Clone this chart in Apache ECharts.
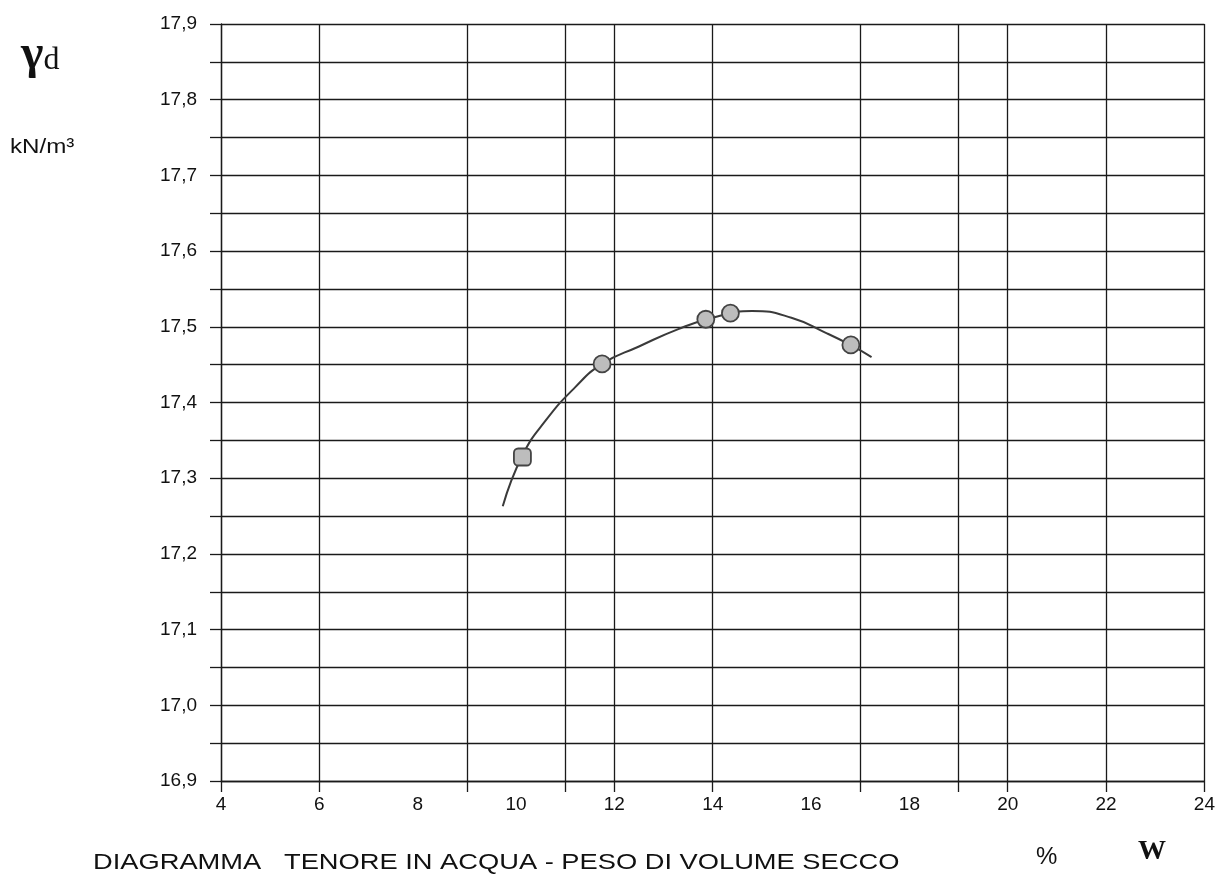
<!DOCTYPE html>
<html>
<head>
<meta charset="utf-8">
<title>Diagramma tenore in acqua - peso di volume secco</title>
<script src="https://cdn.jsdelivr.net/npm/echarts@6/dist/echarts.min.js"></script>
<style>
    html, body { margin: 0; padding: 0; background: #fff; }
    #main { width: 1218px; height: 876px; }
</style>
</head>
<body>
<div id="main"></div>
<script>
// punti di prova (w %, gamma_d kN/m3)
var provaW = [10.13, 11.75, 13.86, 14.36, 16.81];
var provaGd = [17.328, 17.451, 17.510, 17.518, 17.476];

// curva interpolata
var curvaW = [9.73, 10.13, 10.6, 11.2, 11.75, 12.5, 13.3, 14.0, 14.8, 15.6, 16.3, 16.8, 17.23];
var curvaGd = [17.263, 17.33, 17.376, 17.42, 17.451, 17.474, 17.497, 17.512, 17.521, 17.512, 17.492, 17.476, 17.46];

// linee verticali della griglia (non regolari nel grafico originale)
var grigliaW = [4, 6, 9, 11, 12, 14, 17, 19, 20, 22, 24];

(function () {
    var myChart = echarts.init(document.getElementById("main"));

    var font = "'Liberation Sans', Arial, sans-serif";
    var serif = "'Liberation Serif', 'Times New Roman', serif";
    var nero = "#1a1a1a";

    var puntiData = provaW.map(function (w, i) {
        // il primo punto nel grafico originale è quasi quadrato
        if (i === 0) return { value: [w, provaGd[i]], symbol: "roundRect" };
        return [w, provaGd[i]];
    });
    var curvaData = curvaW.map(function (w, i) { return [w, curvaGd[i]]; });

    var option = {
        backgroundColor: "#fff",
        animation: false,
        grid: {
            left: 221,
            right: 11,
            top: 24,
            bottom: 95
        },
        xAxis: {
            type: "value",
            min: 4,
            max: 24,
            interval: 2,
            axisLine: { show: true, lineStyle: { color: nero, width: 1.3 } },
            axisTick: {
                show: true,
                customValues: grigliaW,
                length: 11,
                lineStyle: { color: nero, width: 1.3 }
            },
            splitLine: { show: true, lineStyle: { color: nero, width: 1.3 } },
            axisLabel: {
                color: "#111",
                fontFamily: font,
                fontSize: 19,
                margin: 14
            }
        },
        yAxis: {
            type: "value",
            min: 16.9,
            max: 17.9,
            interval: 0.05,
            axisLine: { show: true, lineStyle: { color: nero, width: 1.3 } },
            axisTick: { show: true, length: 11, lineStyle: { color: nero, width: 1.3 } },
            splitLine: { show: true, lineStyle: { color: nero, width: 1.3 } },
            axisLabel: {
                color: "#111",
                fontFamily: font,
                fontSize: 19,
                margin: 24,
                formatter: function (v) {
                    var c = Math.round(v * 100);
                    if (c % 10 !== 0) return "";
                    return (c / 100).toFixed(1).replace(".", ",");
                }
            }
        },
        graphic: [
            {
                type: "text",
                x: 21,
                y: 56,
                style: {
                    text: "{g|γ}{d|d}",
                    rich: {
                        g: { font: "bold 48px " + serif, fill: "#111" },
                        d: { font: "32px " + serif, fill: "#111", padding: [10, 0, 0, 0] }
                    },
                    verticalAlign: "middle"
                }
            },
            {
                type: "text",
                x: 10,
                y: 147,
                scaleX: 1.15,
                style: {
                    text: "kN/m³",
                    font: "21px " + font,
                    fill: "#111",
                    verticalAlign: "middle"
                }
            },
            {
                type: "text",
                x: 93,
                y: 863,
                scaleX: 1.24,
                style: {
                    text: "DIAGRAMMA   TENORE IN ACQUA - PESO DI VOLUME SECCO",
                    font: "22px " + font,
                    fill: "#111",
                    verticalAlign: "middle"
                }
            },
            {
                type: "text",
                x: 1036,
                y: 857,
                style: {
                    text: "%",
                    font: "24px " + font,
                    fill: "#111",
                    verticalAlign: "middle"
                }
            },
            {
                type: "text",
                x: 1138,
                y: 852,
                style: {
                    text: "W",
                    font: "bold 28px " + serif,
                    fill: "#111",
                    verticalAlign: "middle"
                }
            }
        ],
        series: [
            {
                name: "curva",
                type: "line",
                smooth: true,
                showSymbol: false,
                data: curvaData,
                lineStyle: { color: "#3a3a3a", width: 2 },
                z: 3
            },
            {
                name: "punti",
                type: "scatter",
                symbol: "circle",
                symbolSize: 17,
                data: puntiData,
                itemStyle: {
                    color: "#bdbdbd",
                    borderColor: "#444",
                    borderWidth: 1.8,
                    opacity: 1
                },
                z: 4
            }
        ]
    };

    myChart.setOption(option);
    window.addEventListener("resize", function () {
        myChart.resize();
    });
})();
</script>
</body>
</html>
